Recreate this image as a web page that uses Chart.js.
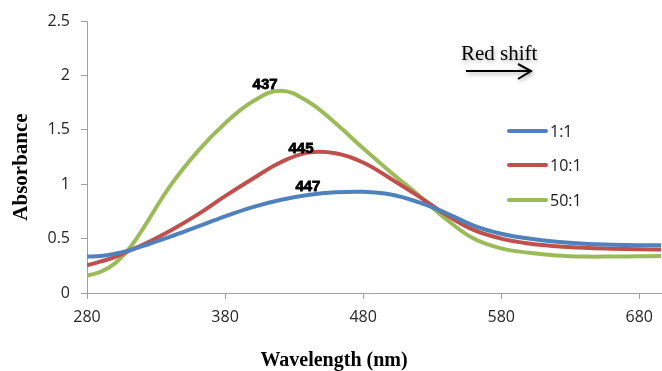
<!DOCTYPE html>
<html>
<head>
<meta charset="utf-8">
<script src="https://cdn.jsdelivr.net/npm/chart.js@4/dist/chart.umd.min.js"></script>
<style>
  html, body { margin: 0; padding: 0; background: #fff; }
  canvas { display: block; }
</style>
</head>
<body>
<canvas id="specChart" width="662" height="371"></canvas>
<script>
// wavelengths (nm)
const wavelengths = [280, 290, 300, 310, 320, 340, 360, 380, 400, 420, 440, 460, 480, 500, 520, 540, 560, 580, 600, 620, 640, 660, 680, 696];

const series1to1 = [0.335, 0.34, 0.36, 0.39, 0.43, 0.515, 0.61, 0.705, 0.79, 0.855, 0.90, 0.925, 0.93, 0.905, 0.835, 0.735, 0.62, 0.545, 0.50, 0.47, 0.452, 0.444, 0.44, 0.44];

const series10to1 = [0.255, 0.29, 0.33, 0.385, 0.44, 0.57, 0.72, 0.89, 1.05, 1.20, 1.29, 1.285, 1.20, 1.05, 0.89, 0.72, 0.58, 0.50, 0.455, 0.43, 0.415, 0.407, 0.402, 0.40];

const series50to1 = [0.16, 0.195, 0.27, 0.40, 0.58, 0.98, 1.30, 1.56, 1.76, 1.86, 1.76, 1.56, 1.33, 1.11, 0.90, 0.68, 0.50, 0.41, 0.37, 0.345, 0.335, 0.335, 0.337, 0.34];

const seriesNames = ["1:1", "10:1", "50:1"];
const seriesColors = ["#4F81BD", "#C0504D", "#9BBB59"];

const xTicks = [280, 380, 480, 580, 680];
const yTicks = [0, 0.5, 1, 1.5, 2, 2.5];

// peak labels (text, wavelength, absorbance where the label sits)
const peakTexts = ["437", "445", "447"];
const peakAtX = [409, 435, 440];
const peakAtY = [1.91, 1.323, 0.976];

const toPoints = (vals) => vals.map((v, i) => ({ x: wavelengths[i], y: v }));

// overlays: axis titles, peak labels, "Red shift" arrow, legend
const overlay = {
  id: "overlay",
  afterDraw(chart) {
    const ctx = chart.ctx;
    const xs = chart.scales.x;
    const ys = chart.scales.y;
    ctx.save();

    // axis titles
    ctx.fillStyle = "#000";
    ctx.font = "bold 20px 'Liberation Serif', 'Times New Roman', serif";
    ctx.textAlign = "center";
    ctx.textBaseline = "alphabetic";
    ctx.fillText("Wavelength (nm)", 334, 366);

    ctx.save();
    ctx.translate(27, 167);
    ctx.rotate(-Math.PI / 2);
    ctx.font = "bold 21px 'Liberation Serif', 'Times New Roman', serif";
    ctx.fillText("Absorbance", 0, 0);
    ctx.restore();

    // peak labels
    ctx.font = "bold 15px 'Liberation Sans', Arial, sans-serif";
    ctx.textBaseline = "middle";
    ctx.strokeStyle = "#000";
    ctx.lineWidth = 0.8;
    peakTexts.forEach((t, i) => {
      const px = xs.getPixelForValue(peakAtX[i]);
      const py = ys.getPixelForValue(peakAtY[i]);
      ctx.fillText(t, px, py);
      ctx.strokeText(t, px, py);
    });

    // Red shift + arrow, with soft shadow
    ctx.save();
    ctx.shadowColor = "rgba(0,0,0,0.35)";
    ctx.shadowBlur = 4;
    ctx.shadowOffsetX = 1;
    ctx.shadowOffsetY = 2;
    ctx.font = "21px 'Liberation Serif', 'Times New Roman', serif";
    ctx.textAlign = "left";
    ctx.textBaseline = "alphabetic";
    ctx.fillText("Red shift", 461, 60);
    ctx.lineWidth = 2;
    ctx.beginPath();
    ctx.moveTo(466, 71);
    ctx.lineTo(531, 71);
    ctx.moveTo(518, 64);
    ctx.lineTo(531, 71);
    ctx.lineTo(518, 79);
    ctx.stroke();
    ctx.restore();

    // legend
    const legendY = [131, 165, 200];
    ctx.font = "16px 'Open Sans', sans-serif";
    ctx.textAlign = "left";
    ctx.textBaseline = "middle";
    seriesNames.forEach((n, i) => {
      ctx.strokeStyle = seriesColors[i];
      ctx.lineWidth = 4;
      ctx.lineCap = "round";
      ctx.beginPath();
      ctx.moveTo(509, legendY[i]);
      ctx.lineTo(546, legendY[i]);
      ctx.stroke();
      ctx.fillStyle = "#1a1a1a";
      ctx.fillText(n, 550, legendY[i] + 1);
    });

    ctx.restore();
  }
};

const ctx = document.getElementById("specChart").getContext("2d");

new Chart(ctx, {
  type: "line",
  data: {
    datasets: [
      { label: seriesNames[0], data: toPoints(series1to1), borderColor: seriesColors[0] },
      { label: seriesNames[1], data: toPoints(series10to1), borderColor: seriesColors[1] },
      { label: seriesNames[2], data: toPoints(series50to1), borderColor: seriesColors[2] },
    ],
  },
  options: {
    responsive: false,
    animation: false,
    layout: { padding: { top: 21, right: 0, left: 0, bottom: 0 } },
    elements: {
      line: { borderWidth: 4, tension: 0.4, fill: false },
      point: { radius: 0 },
    },
    plugins: {
      legend: { display: false },
      tooltip: { enabled: false },
    },
    scales: {
      x: {
        type: "linear",
        min: 280,
        max: 696,
        afterBuildTicks: (scale) => {
          scale.ticks = xTicks.map((v) => ({ value: v }));
        },
        afterFit: (scale) => {
          scale.height = 78;
        },
        grid: { drawOnChartArea: false, drawTicks: true, tickLength: 6, color: "#a0a0a0" },
        border: { color: "#a0a0a0", width: 1 },
        ticks: {
          font: { family: "'Open Sans', sans-serif", size: 16 },
          color: "#262626",
          padding: 9,
          maxRotation: 0,
        },
      },
      y: {
        min: 0,
        max: 2.5,
        afterBuildTicks: (scale) => {
          scale.ticks = yTicks.map((v) => ({ value: v }));
        },
        afterFit: (scale) => {
          scale.width = 87;
        },
        grid: { drawOnChartArea: false, drawTicks: true, tickLength: 6, color: "#a0a0a0" },
        border: { color: "#a0a0a0", width: 1 },
        ticks: {
          font: { family: "'Open Sans', sans-serif", size: 16 },
          color: "#262626",
          padding: 11,
          callback: (v) => String(v),
        },
      },
    },
  },
  plugins: [overlay],
});
</script>
</body>
</html>
